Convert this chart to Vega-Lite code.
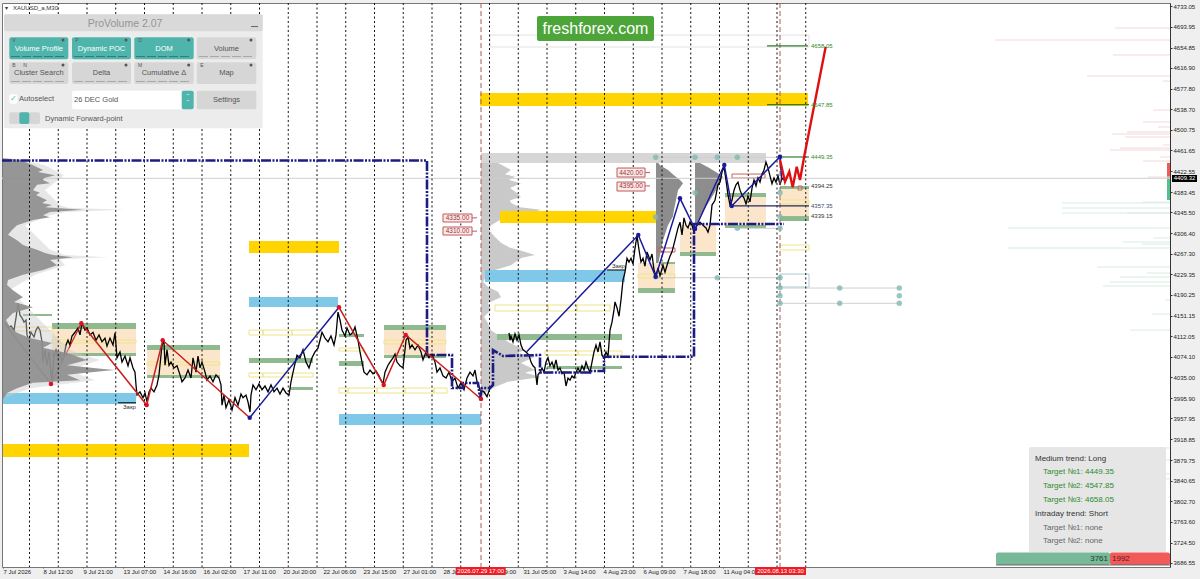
{
  "$schema": "https://vega.github.io/schema/vega-lite/v6.json",
  "width": 1168,
  "height": 564,
  "autosize": "none",
  "padding": {"left": 2, "top": 3, "right": 30, "bottom": 12},
  "background": "#efefef",
  "view": {"fill": "#ffffff", "stroke": "#777777"},
  "config": {"text": {"font": "Liberation Sans"}, "axis": {"labelFont": "Liberation Sans"}},
  "resolve": {"scale": {"color": "independent", "stroke": "independent"}},
  "encoding": {
    "x": {
      "field": "bar", "type": "quantitative",
      "scale": {"domain": [2, 1170], "nice": false, "zero": false},
      "axis": {
        "orient": "bottom", "title": null, "grid": false, "domain": false,
        "values": [3, 43, 83, 123, 163, 203, 243, 283, 323, 363, 403, 443, 483, 523, 563, 603, 643, 683, 723],
        "labelExpr": "['7 Jul 2026','8 Jul 12:00','9 Jul 21:00','13 Jul 07:00','14 Jul 16:00','16 Jul 02:00','17 Jul 11:00','20 Jul 20:00','22 Jul 06:00','23 Jul 15:00','27 Jul 01:00','28 Jul 10:00','30 Jul 19:00','31 Jul 05:00','3 Aug 14:00','4 Aug 23:00','6 Aug 09:00','7 Aug 18:00','11 Aug 04:00'][round((datum.value-3)/40)]",
        "labelAlign": "left", "labelFontSize": 6, "labelColor": "#222222", "labelPadding": 0,
        "labelFlush": false, "labelOverlap": false, "labelBound": false, "tickSize": 1, "tickColor": "#555555"
      }
    },
    "y": {
      "field": "price", "type": "quantitative",
      "scale": {"domain": [3678.9, 4738.7], "nice": false, "zero": false},
      "axis": {
        "orient": "right", "title": null, "grid": false, "domainColor": "#333333",
        "values": [4733.05, 4693.95, 4654.85, 4616.9, 4577.8, 4538.7, 4500.75, 4461.65, 4422.55, 4383.45, 4345.5, 4306.4, 4267.3, 4229.35, 4190.25, 4151.15, 4112.05, 4074.1, 4035, 3995.9, 3957.95, 3918.85, 3879.75, 3840.65, 3802.7, 3763.6, 3724.5, 3686.55],
        "format": ".2f", "labelFontSize": 6, "labelColor": "#222222", "labelPadding": 1,
        "labelOverlap": false, "labelBound": false, "labelFlush": false, "tickSize": 2, "tickColor": "#333333"
      }
    }
  },
  "datasets": {
    "second": [
      {"bar": 498, "bar2": 481, "price": 4438}, {"bar": 506, "bar2": 481, "price": 4430}, {"bar": 511, "bar2": 481, "price": 4425}, {"bar": 505, "bar2": 481, "price": 4417}, {"bar": 515, "bar2": 481, "price": 4412}, {"bar": 509, "bar2": 481, "price": 4406}, {"bar": 521, "bar2": 481, "price": 4400}, {"bar": 510, "bar2": 481, "price": 4391}, {"bar": 516, "bar2": 481, "price": 4383}, {"bar": 521, "bar2": 481, "price": 4374}, {"bar": 510, "bar2": 481, "price": 4368}, {"bar": 511, "bar2": 481, "price": 4363}, {"bar": 520, "bar2": 481, "price": 4355}, {"bar": 541, "bar2": 481, "price": 4350}, {"bar": 530, "bar2": 481, "price": 4344}, {"bar": 521, "bar2": 481, "price": 4340}, {"bar": 500, "bar2": 481, "price": 4331}, {"bar": 491, "bar2": 481, "price": 4321}, {"bar": 489, "bar2": 481, "price": 4312}, {"bar": 495, "bar2": 481, "price": 4299}, {"bar": 501, "bar2": 481, "price": 4288}, {"bar": 510, "bar2": 481, "price": 4279}, {"bar": 518, "bar2": 481, "price": 4275}, {"bar": 535, "bar2": 481, "price": 4265}, {"bar": 522, "bar2": 481, "price": 4260}, {"bar": 518, "bar2": 481, "price": 4256}, {"bar": 511, "bar2": 481, "price": 4246}, {"bar": 495, "bar2": 481, "price": 4237}, {"bar": 486, "bar2": 481, "price": 4224}, {"bar": 483, "bar2": 481, "price": 4215}, {"bar": 488, "bar2": 481, "price": 4205}, {"bar": 498, "bar2": 481, "price": 4196}, {"bar": 501, "bar2": 481, "price": 4186}, {"bar": 488, "bar2": 481, "price": 4175}, {"bar": 491, "bar2": 481, "price": 4162}, {"bar": 484, "bar2": 481, "price": 4149}, {"bar": 488, "bar2": 481, "price": 4137}, {"bar": 491, "bar2": 481, "price": 4124}, {"bar": 501, "bar2": 481, "price": 4111}, {"bar": 510, "bar2": 481, "price": 4100}, {"bar": 525, "bar2": 481, "price": 4087}, {"bar": 518, "bar2": 481, "price": 4081}, {"bar": 535, "bar2": 481, "price": 4074}, {"bar": 521, "bar2": 481, "price": 4062}, {"bar": 535, "bar2": 481, "price": 4049}, {"bar": 525, "bar2": 481, "price": 4044}, {"bar": 541, "bar2": 481, "price": 4036}, {"bar": 508, "bar2": 481, "price": 4027}, {"bar": 495, "bar2": 481, "price": 4017}, {"bar": 485, "bar2": 481, "price": 4006}, {"bar": 482, "bar2": 481, "price": 3998}
    ],
    "third": [
      {"bar": 656, "bar2": 656, "price": 4444}, {"bar": 660, "bar2": 656, "price": 4434}, {"bar": 668, "bar2": 656, "price": 4425}, {"bar": 674, "bar2": 656, "price": 4415}, {"bar": 680, "bar2": 656, "price": 4406}, {"bar": 683, "bar2": 656, "price": 4400}, {"bar": 678, "bar2": 656, "price": 4387}, {"bar": 676, "bar2": 656, "price": 4368}, {"bar": 674, "bar2": 656, "price": 4350}, {"bar": 673, "bar2": 656, "price": 4338}, {"bar": 668, "bar2": 656, "price": 4321}, {"bar": 663, "bar2": 656, "price": 4293}, {"bar": 660, "bar2": 656, "price": 4265}, {"bar": 658, "bar2": 656, "price": 4246}, {"bar": 656, "bar2": 656, "price": 4231}
    ],
    "fourth": [
      {"bar": 695, "bar2": 695, "price": 4444}, {"bar": 700, "bar2": 695, "price": 4438}, {"bar": 708, "bar2": 695, "price": 4430}, {"bar": 716, "bar2": 695, "price": 4421}, {"bar": 723, "bar2": 695, "price": 4412}, {"bar": 720, "bar2": 695, "price": 4402}, {"bar": 716, "bar2": 695, "price": 4387}, {"bar": 710, "bar2": 695, "price": 4368}, {"bar": 704, "bar2": 695, "price": 4350}, {"bar": 700, "bar2": 695, "price": 4337}, {"bar": 696, "bar2": 695, "price": 4321}
    ],
    "leftFringe": [
      {"bar": 20, "bar2": 3, "price": 4444}, {"bar": 45, "bar2": 3, "price": 4434}, {"bar": 64, "bar2": 3, "price": 4415}, {"bar": 45, "bar2": 3, "price": 4387}, {"bar": 60, "bar2": 3, "price": 4359}, {"bar": 68, "bar2": 3, "price": 4354}, {"bar": 125, "bar2": 3, "price": 4350}, {"bar": 65, "bar2": 3, "price": 4346}, {"bar": 50, "bar2": 3, "price": 4340}, {"bar": 25, "bar2": 3, "price": 4321}, {"bar": 50, "bar2": 3, "price": 4275}, {"bar": 65, "bar2": 3, "price": 4265}, {"bar": 108, "bar2": 3, "price": 4261}, {"bar": 60, "bar2": 3, "price": 4257}, {"bar": 65, "bar2": 3, "price": 4246}, {"bar": 35, "bar2": 3, "price": 4228}, {"bar": 10, "bar2": 3, "price": 4200}, {"bar": 60, "bar2": 3, "price": 4105}, {"bar": 72, "bar2": 3, "price": 4085}, {"bar": 100, "bar2": 3, "price": 4068}, {"bar": 75, "bar2": 3, "price": 4053}, {"bar": 125, "bar2": 3, "price": 4049}, {"bar": 75, "bar2": 3, "price": 4044}, {"bar": 95, "bar2": 3, "price": 4030}, {"bar": 30, "bar2": 3, "price": 4015}, {"bar": 4, "bar2": 3, "price": 3996}
    ],
    "left": [
      {"bar": 4, "bar2": 3, "price": 4447}, {"bar": 20, "bar2": 3, "price": 4444}, {"bar": 33, "bar2": 3, "price": 4434}, {"bar": 43, "bar2": 3, "price": 4425}, {"bar": 38, "bar2": 3, "price": 4421}, {"bar": 55, "bar2": 3, "price": 4415}, {"bar": 44, "bar2": 3, "price": 4410}, {"bar": 43, "bar2": 3, "price": 4406}, {"bar": 50, "bar2": 3, "price": 4400}, {"bar": 37, "bar2": 3, "price": 4397}, {"bar": 33, "bar2": 3, "price": 4387}, {"bar": 40, "bar2": 3, "price": 4382}, {"bar": 36, "bar2": 3, "price": 4378}, {"bar": 47, "bar2": 3, "price": 4368}, {"bar": 42, "bar2": 3, "price": 4363}, {"bar": 52, "bar2": 3, "price": 4359}, {"bar": 45, "bar2": 3, "price": 4355}, {"bar": 83, "bar2": 3, "price": 4350}, {"bar": 50, "bar2": 3, "price": 4346}, {"bar": 43, "bar2": 3, "price": 4340}, {"bar": 50, "bar2": 3, "price": 4336}, {"bar": 33, "bar2": 3, "price": 4331}, {"bar": 17, "bar2": 3, "price": 4321}, {"bar": 12, "bar2": 3, "price": 4312}, {"bar": 8, "bar2": 3, "price": 4303}, {"bar": 17, "bar2": 3, "price": 4293}, {"bar": 23, "bar2": 3, "price": 4284}, {"bar": 37, "bar2": 3, "price": 4275}, {"bar": 45, "bar2": 3, "price": 4269}, {"bar": 53, "bar2": 3, "price": 4265}, {"bar": 73, "bar2": 3, "price": 4261}, {"bar": 50, "bar2": 3, "price": 4256}, {"bar": 57, "bar2": 3, "price": 4246}, {"bar": 43, "bar2": 3, "price": 4237}, {"bar": 23, "bar2": 3, "price": 4228}, {"bar": 8, "bar2": 3, "price": 4218}, {"bar": 7, "bar2": 3, "price": 4209}, {"bar": 13, "bar2": 3, "price": 4199}, {"bar": 23, "bar2": 3, "price": 4186}, {"bar": 14, "bar2": 3, "price": 4177}, {"bar": 33, "bar2": 3, "price": 4167}, {"bar": 13, "bar2": 3, "price": 4156}, {"bar": 6, "bar2": 3, "price": 4143}, {"bar": 10, "bar2": 3, "price": 4130}, {"bar": 17, "bar2": 3, "price": 4119}, {"bar": 30, "bar2": 3, "price": 4109}, {"bar": 52, "bar2": 3, "price": 4100}, {"bar": 43, "bar2": 3, "price": 4091}, {"bar": 67, "bar2": 3, "price": 4081}, {"bar": 87, "bar2": 3, "price": 4068}, {"bar": 67, "bar2": 3, "price": 4058}, {"bar": 113, "bar2": 3, "price": 4049}, {"bar": 67, "bar2": 3, "price": 4040}, {"bar": 80, "bar2": 3, "price": 4030}, {"bar": 33, "bar2": 3, "price": 4025}, {"bar": 17, "bar2": 3, "price": 4015}, {"bar": 7, "bar2": 3, "price": 4006}, {"bar": 4, "bar2": 3, "price": 3996}
    ],
    "zones": [
      {"kind": "gray", "bar": 481, "bar2": 766, "price": 4456.8, "price2": 4438},
      {"kind": "beige", "bar": 52, "bar2": 136, "price": 4126.1, "price2": 4081},
      {"kind": "beige", "bar": 147, "bar2": 220, "price": 4086.6, "price2": 4039.7},
      {"kind": "beige", "bar": 384, "bar2": 446, "price": 4124.2, "price2": 4077.2},
      {"kind": "beige", "bar": 638, "bar2": 675, "price": 4250.1, "price2": 4203.2},
      {"kind": "beige", "bar": 680, "bar2": 716, "price": 4321.5, "price2": 4270.8},
      {"kind": "beige", "bar": 725, "bar2": 766, "price": 4374.1, "price2": 4321.5},
      {"kind": "beige", "bar": 780, "bar2": 809, "price": 4389.2, "price2": 4338.4},
      {"kind": "gold", "bar": 3, "bar2": 249, "price": 3910, "price2": 3885.6},
      {"kind": "gold", "bar": 249, "bar2": 339, "price": 4291.4, "price2": 4268.9},
      {"kind": "gold", "bar": 480, "bar2": 808, "price": 4569.6, "price2": 4545.1},
      {"kind": "gold", "bar": 500, "bar2": 656, "price": 4347.8, "price2": 4325.3},
      {"kind": "sky", "bar": 3, "bar2": 136, "price": 4005.8, "price2": 3985.2},
      {"kind": "sky", "bar": 249, "bar2": 338, "price": 4186.2, "price2": 4167.5},
      {"kind": "sky", "bar": 339, "bar2": 481, "price": 3966.4, "price2": 3945.7},
      {"kind": "sky", "bar": 485, "bar2": 625, "price": 4237, "price2": 4214.4},
      {"kind": "green", "bar": 52, "bar2": 136, "price": 4137.4, "price2": 4126.1},
      {"kind": "green", "bar": 23, "bar2": 52, "price": 4154.3, "price2": 4150.5},
      {"kind": "green", "bar": 52, "bar2": 136, "price": 4081, "price2": 4075.4},
      {"kind": "green", "bar": 147, "bar2": 220, "price": 4096, "price2": 4086.6},
      {"kind": "green", "bar": 147, "bar2": 220, "price": 4039.7, "price2": 4034},
      {"kind": "green", "bar": 249, "bar2": 313, "price": 4071.6, "price2": 4062.2},
      {"kind": "green", "bar": 290, "bar2": 313, "price": 4017.1, "price2": 4011.5},
      {"kind": "green", "bar": 339, "bar2": 364, "price": 4116.7, "price2": 4111},
      {"kind": "green", "bar": 339, "bar2": 364, "price": 4066, "price2": 4056.6},
      {"kind": "green", "bar": 384, "bar2": 446, "price": 4133.6, "price2": 4124.2},
      {"kind": "green", "bar": 384, "bar2": 446, "price": 4077.2, "price2": 4071.6},
      {"kind": "green", "bar": 497, "bar2": 622, "price": 4116.7, "price2": 4105.4},
      {"kind": "green", "bar": 547, "bar2": 622, "price": 4056.6, "price2": 4051},
      {"kind": "green", "bar": 638, "bar2": 675, "price": 4203.2, "price2": 4193.8},
      {"kind": "green", "bar": 659, "bar2": 675, "price": 4252, "price2": 4248.2},
      {"kind": "green", "bar": 680, "bar2": 716, "price": 4270.8, "price2": 4263.3},
      {"kind": "green", "bar": 725, "bar2": 766, "price": 4381.6, "price2": 4374.1},
      {"kind": "green", "bar": 725, "bar2": 766, "price": 4321.5, "price2": 4315.9},
      {"kind": "green", "bar": 780, "bar2": 809, "price": 4394.8, "price2": 4389.2},
      {"kind": "green", "bar": 780, "bar2": 809, "price": 4338.4, "price2": 4329},
      {"kind": "domRed", "bar": 1167, "bar2": 1170, "price": 4438, "price2": 4409.3},
      {"kind": "domGreen", "bar": 1167, "bar2": 1170, "price": 4409.3, "price2": 4368.5}
    ],
    "outlines": [
      {"kind": "yellow", "bar": 15, "bar2": 52, "price": 4129.9, "price2": 4122.3},
      {"kind": "yellow", "bar": 52, "bar2": 136, "price": 4105.4, "price2": 4099.8},
      {"kind": "yellow", "bar": 147, "bar2": 220, "price": 4064.1, "price2": 4058.5},
      {"kind": "yellow", "bar": 249, "bar2": 263, "price": 4124.2, "price2": 4114.8},
      {"kind": "yellow", "bar": 263, "bar2": 292, "price": 4124.2, "price2": 4114.8},
      {"kind": "yellow", "bar": 292, "bar2": 320, "price": 4124.2, "price2": 4114.8},
      {"kind": "yellow", "bar": 249, "bar2": 263, "price": 4043.4, "price2": 4035.9},
      {"kind": "yellow", "bar": 263, "bar2": 292, "price": 4043.4, "price2": 4035.9},
      {"kind": "yellow", "bar": 292, "bar2": 313, "price": 4043.4, "price2": 4035.9},
      {"kind": "yellow", "bar": 339, "bar2": 364, "price": 4090.4, "price2": 4084.8},
      {"kind": "yellow", "bar": 339, "bar2": 348, "price": 4015.2, "price2": 4005.8},
      {"kind": "yellow", "bar": 348, "bar2": 377, "price": 4015.2, "price2": 4005.8},
      {"kind": "yellow", "bar": 377, "bar2": 405, "price": 4015.2, "price2": 4005.8},
      {"kind": "yellow", "bar": 405, "bar2": 434, "price": 4015.2, "price2": 4005.8},
      {"kind": "yellow", "bar": 434, "bar2": 447, "price": 4015.2, "price2": 4005.8},
      {"kind": "yellow", "bar": 384, "bar2": 446, "price": 4105.4, "price2": 4098},
      {"kind": "yellow", "bar": 495, "bar2": 548, "price": 4171.2, "price2": 4159.9},
      {"kind": "yellow", "bar": 548, "bar2": 577, "price": 4171.2, "price2": 4159.9},
      {"kind": "yellow", "bar": 577, "bar2": 610, "price": 4171.2, "price2": 4159.9},
      {"kind": "yellow", "bar": 545, "bar2": 578, "price": 4084.8, "price2": 4077.2},
      {"kind": "yellow", "bar": 578, "bar2": 622, "price": 4084.8, "price2": 4077.2},
      {"kind": "yellow", "bar": 638, "bar2": 675, "price": 4229.4, "price2": 4221.9},
      {"kind": "yellow", "bar": 780, "bar2": 809, "price": 4283.9, "price2": 4274.6},
      {"kind": "yellow", "bar": 780, "bar2": 809, "price": 4368.5, "price2": 4361},
      {"kind": "red", "bar": 658, "bar2": 675, "price": 4278.3, "price2": 4270.8},
      {"kind": "red", "bar": 732, "bar2": 765, "price": 4417.3, "price2": 4409.8},
      {"kind": "red", "bar": 798, "bar2": 802, "price": 4394.8, "price2": 4387.3},
      {"kind": "blue", "bar": 780, "bar2": 809, "price": 4229.4, "price2": 4205},
      {"kind": "gray", "bar": 490, "bar2": 809, "price": 4678.5, "price2": 4656}
    ],
    "grid": [
      {"bar": 29.5, "price": 4738.7, "price2": 3678.9}, {"bar": 58.25, "price": 4738.7, "price2": 3678.9}, {"bar": 87, "price": 4738.7, "price2": 3678.9}, {"bar": 115.75, "price": 4738.7, "price2": 3678.9}, {"bar": 144.5, "price": 4738.7, "price2": 3678.9}, {"bar": 173.25, "price": 4738.7, "price2": 3678.9}, {"bar": 202, "price": 4738.7, "price2": 3678.9}, {"bar": 230.75, "price": 4738.7, "price2": 3678.9}, {"bar": 259.5, "price": 4738.7, "price2": 3678.9}, {"bar": 288.25, "price": 4738.7, "price2": 3678.9}, {"bar": 317, "price": 4738.7, "price2": 3678.9}, {"bar": 345.75, "price": 4738.7, "price2": 3678.9}, {"bar": 374.5, "price": 4738.7, "price2": 3678.9}, {"bar": 403.25, "price": 4738.7, "price2": 3678.9}, {"bar": 432, "price": 4738.7, "price2": 3678.9}, {"bar": 460.75, "price": 4738.7, "price2": 3678.9}, {"bar": 489.5, "price": 4738.7, "price2": 3678.9}, {"bar": 518.25, "price": 4738.7, "price2": 3678.9}, {"bar": 547, "price": 4738.7, "price2": 3678.9}, {"bar": 575.75, "price": 4738.7, "price2": 3678.9}, {"bar": 604.5, "price": 4738.7, "price2": 3678.9}, {"bar": 633.25, "price": 4738.7, "price2": 3678.9}, {"bar": 662, "price": 4738.7, "price2": 3678.9}, {"bar": 690.75, "price": 4738.7, "price2": 3678.9}, {"bar": 719.5, "price": 4738.7, "price2": 3678.9}, {"bar": 748.25, "price": 4738.7, "price2": 3678.9}, {"bar": 777, "price": 4738.7, "price2": 3678.9}, {"bar": 805.75, "price": 4738.7, "price2": 3678.9}
    ],
    "separators": [{"bar": 481, "price": 4738.7, "price2": 3678.9}, {"bar": 780, "price": 4738.7, "price2": 3678.9}],
    "pale": [
      {"bar": 2, "bar2": 1170, "price": 4409.32},
      {"bar": 655, "bar2": 780, "price": 4448.7},
      {"bar": 737, "bar2": 780, "price": 4315.3},
      {"bar": 655, "bar2": 780, "price": 4222.5},
      {"bar": 780, "bar2": 899, "price": 4203.1},
      {"bar": 780, "bar2": 899, "price": 4174.4}
    ],
    "dom": [
      {"side": "ask", "bar": 1115, "bar2": 1170, "price": 4691.7}, {"side": "ask", "bar": 995, "bar2": 1170, "price": 4669.1}, {"side": "ask", "bar": 1113, "bar2": 1170, "price": 4641}, {"side": "ask", "bar": 1087, "bar2": 1170, "price": 4601.5}, {"side": "ask", "bar": 1163, "bar2": 1170, "price": 4592.1}, {"side": "ask", "bar": 1153, "bar2": 1170, "price": 4537.6}, {"side": "ask", "bar": 1143, "bar2": 1170, "price": 4515.1}, {"side": "ask", "bar": 1158, "bar2": 1170, "price": 4505.7}, {"side": "ask", "bar": 1112, "bar2": 1170, "price": 4492.5}, {"side": "ask", "bar": 1127, "bar2": 1170, "price": 4496.3}, {"side": "ask", "bar": 1125, "bar2": 1170, "price": 4486.9}, {"side": "ask", "bar": 1163, "bar2": 1170, "price": 4471.8}, {"side": "ask", "bar": 1110, "bar2": 1170, "price": 4462.5}, {"side": "ask", "bar": 1120, "bar2": 1170, "price": 4466.2}, {"side": "ask", "bar": 1143, "bar2": 1170, "price": 4441.8}, {"side": "ask", "bar": 1160, "bar2": 1170, "price": 4449.3}, {"side": "ask", "bar": 1148, "bar2": 1170, "price": 4411.7},
      {"side": "bid", "bar": 1062, "bar2": 1170, "price": 4362.9}, {"side": "bid", "bar": 1143, "bar2": 1170, "price": 4364.7}, {"side": "bid", "bar": 1062, "bar2": 1170, "price": 4353.5}, {"side": "bid", "bar": 1062, "bar2": 1170, "price": 4344.1}, {"side": "bid", "bar": 1127, "bar2": 1170, "price": 4344.1}, {"side": "bid", "bar": 1008, "bar2": 1170, "price": 4315.9}, {"side": "bid", "bar": 1153, "bar2": 1170, "price": 4297.1}, {"side": "bid", "bar": 1123, "bar2": 1170, "price": 4289.6}, {"side": "bid", "bar": 1142, "bar2": 1170, "price": 4285.8}, {"side": "bid", "bar": 1008, "bar2": 1170, "price": 4278.3}, {"side": "bid", "bar": 1097, "bar2": 1170, "price": 4242.6}, {"side": "bid", "bar": 1147, "bar2": 1170, "price": 4231.3}, {"side": "bid", "bar": 1120, "bar2": 1170, "price": 4223.8}, {"side": "bid", "bar": 1110, "bar2": 1170, "price": 4214.4}, {"side": "bid", "bar": 1103, "bar2": 1170, "price": 4206.9}, {"side": "bid", "bar": 1165, "bar2": 1170, "price": 4180.6}, {"side": "bid", "bar": 1152, "bar2": 1170, "price": 4154.3}, {"side": "bid", "bar": 1130, "bar2": 1170, "price": 4124}, {"side": "bid", "bar": 1150, "bar2": 1170, "price": 3902.5}, {"side": "bid", "bar": 1160, "bar2": 1170, "price": 3880}, {"side": "bid", "bar": 1160, "bar2": 1170, "price": 3853.7}, {"side": "bid", "bar": 1123, "bar2": 1170, "price": 3844.3}
    ],
    "levels": [
      {"tone": "green", "bar": 780, "bar2": 809, "price": 4449.35},
      {"tone": "green", "bar": 767, "bar2": 809, "price": 4547.85},
      {"tone": "green", "bar": 767, "bar2": 808, "price": 4658.05},
      {"tone": "navy", "bar": 731, "bar2": 809, "price": 4357.35}
    ],
    "close": [
      {"seg": "a", "bar": 5, "price": 4137}, {"seg": "a", "bar": 8, "price": 4128}, {"seg": "a", "bar": 11, "price": 4132}, {"seg": "a", "bar": 14, "price": 4124}, {"seg": "a", "bar": 16, "price": 4147}, {"seg": "a", "bar": 18, "price": 4175}, {"seg": "a", "bar": 20, "price": 4152}, {"seg": "a", "bar": 22, "price": 4147}, {"seg": "a", "bar": 24, "price": 4139}, {"seg": "a", "bar": 26, "price": 4143}, {"seg": "a", "bar": 27, "price": 4115}, {"seg": "a", "bar": 29, "price": 4104}, {"seg": "a", "bar": 31, "price": 4120}, {"seg": "a", "bar": 34, "price": 4111}, {"seg": "a", "bar": 36, "price": 4124}, {"seg": "a", "bar": 38, "price": 4130}, {"seg": "a", "bar": 40, "price": 4124}, {"seg": "a", "bar": 42, "price": 4102}, {"seg": "a", "bar": 43, "price": 4064}, {"seg": "a", "bar": 45, "price": 4087}, {"seg": "a", "bar": 47, "price": 4058}, {"seg": "a", "bar": 49, "price": 4083}, {"seg": "a", "bar": 51, "price": 4040}, {"seg": "a", "bar": 52, "price": 4030}, {"seg": "a", "bar": 54, "price": 4077}, {"seg": "a", "bar": 56, "price": 4087}, {"seg": "a", "bar": 58, "price": 4072}, {"seg": "a", "bar": 60, "price": 4079}, {"seg": "a", "bar": 62, "price": 4064}, {"seg": "a", "bar": 64, "price": 4075}, {"seg": "a", "bar": 66, "price": 4096}, {"seg": "a", "bar": 68, "price": 4105}, {"seg": "a", "bar": 70, "price": 4096}, {"seg": "a", "bar": 72, "price": 4113}, {"seg": "a", "bar": 75, "price": 4120}, {"seg": "a", "bar": 78, "price": 4128}, {"seg": "a", "bar": 80, "price": 4115}, {"seg": "a", "bar": 82, "price": 4137}, {"seg": "a", "bar": 85, "price": 4124}, {"seg": "a", "bar": 87, "price": 4128}, {"seg": "a", "bar": 90, "price": 4115}, {"seg": "a", "bar": 93, "price": 4120}, {"seg": "a", "bar": 96, "price": 4105}, {"seg": "a", "bar": 99, "price": 4115}, {"seg": "a", "bar": 102, "price": 4102}, {"seg": "a", "bar": 105, "price": 4109}, {"seg": "a", "bar": 107, "price": 4094}, {"seg": "a", "bar": 110, "price": 4109}, {"seg": "a", "bar": 113, "price": 4096}, {"seg": "a", "bar": 115, "price": 4119}, {"seg": "a", "bar": 116, "price": 4096}, {"seg": "a", "bar": 117, "price": 4072}, {"seg": "a", "bar": 120, "price": 4083}, {"seg": "a", "bar": 122, "price": 4064}, {"seg": "a", "bar": 125, "price": 4075}, {"seg": "a", "bar": 128, "price": 4057}, {"seg": "a", "bar": 130, "price": 4072}, {"seg": "a", "bar": 133, "price": 4053}, {"seg": "a", "bar": 135, "price": 4045}, {"seg": "a", "bar": 136, "price": 4021}, {"seg": "a", "bar": 137, "price": 4002}, {"seg": "a", "bar": 140, "price": 4008}, {"seg": "a", "bar": 143, "price": 3997}, {"seg": "a", "bar": 145, "price": 4006}, {"seg": "a", "bar": 147, "price": 3989}, {"seg": "a", "bar": 149, "price": 4008}, {"seg": "a", "bar": 151, "price": 4015}, {"seg": "a", "bar": 154, "price": 4008}, {"seg": "a", "bar": 157, "price": 4021}, {"seg": "a", "bar": 159, "price": 4040}, {"seg": "a", "bar": 161, "price": 4077}, {"seg": "a", "bar": 162, "price": 4096}, {"seg": "a", "bar": 164, "price": 4102}, {"seg": "a", "bar": 165, "price": 4058}, {"seg": "a", "bar": 167, "price": 4087}, {"seg": "a", "bar": 169, "price": 4058}, {"seg": "a", "bar": 171, "price": 4064}, {"seg": "a", "bar": 174, "price": 4053}, {"seg": "a", "bar": 177, "price": 4057}, {"seg": "a", "bar": 180, "price": 4040}, {"seg": "a", "bar": 182, "price": 4027}, {"seg": "a", "bar": 185, "price": 4034}, {"seg": "a", "bar": 188, "price": 4049}, {"seg": "a", "bar": 191, "price": 4034}, {"seg": "a", "bar": 193, "price": 4072}, {"seg": "a", "bar": 196, "price": 4045}, {"seg": "a", "bar": 198, "price": 4075}, {"seg": "a", "bar": 200, "price": 4053}, {"seg": "a", "bar": 202, "price": 4064}, {"seg": "a", "bar": 205, "price": 4045}, {"seg": "a", "bar": 207, "price": 4030}, {"seg": "a", "bar": 210, "price": 4038}, {"seg": "a", "bar": 213, "price": 4027}, {"seg": "a", "bar": 216, "price": 4040}, {"seg": "a", "bar": 219, "price": 4034}, {"seg": "a", "bar": 221, "price": 4021}, {"seg": "a", "bar": 222, "price": 3983}, {"seg": "a", "bar": 224, "price": 4002}, {"seg": "a", "bar": 226, "price": 3978}, {"seg": "a", "bar": 229, "price": 3993}, {"seg": "a", "bar": 232, "price": 3974}, {"seg": "a", "bar": 235, "price": 3997}, {"seg": "a", "bar": 238, "price": 3983}, {"seg": "a", "bar": 241, "price": 4004}, {"seg": "a", "bar": 243, "price": 3997}, {"seg": "a", "bar": 246, "price": 4002}, {"seg": "a", "bar": 248, "price": 3989}, {"seg": "a", "bar": 250, "price": 3970}, {"seg": "a", "bar": 251, "price": 4002}, {"seg": "a", "bar": 253, "price": 4021}, {"seg": "a", "bar": 256, "price": 4012}, {"seg": "a", "bar": 259, "price": 4023}, {"seg": "a", "bar": 262, "price": 4012}, {"seg": "a", "bar": 265, "price": 4019}, {"seg": "a", "bar": 268, "price": 4008}, {"seg": "a", "bar": 271, "price": 4021}, {"seg": "a", "bar": 274, "price": 4008}, {"seg": "a", "bar": 277, "price": 4015}, {"seg": "a", "bar": 280, "price": 4004}, {"seg": "a", "bar": 283, "price": 4015}, {"seg": "a", "bar": 286, "price": 4006}, {"seg": "a", "bar": 289, "price": 4002}, {"seg": "a", "bar": 291, "price": 4027}, {"seg": "a", "bar": 294, "price": 4053}, {"seg": "a", "bar": 297, "price": 4077}, {"seg": "a", "bar": 300, "price": 4072}, {"seg": "a", "bar": 303, "price": 4087}, {"seg": "a", "bar": 306, "price": 4064}, {"seg": "a", "bar": 309, "price": 4053}, {"seg": "a", "bar": 312, "price": 4072}, {"seg": "a", "bar": 315, "price": 4083}, {"seg": "a", "bar": 318, "price": 4090}, {"seg": "a", "bar": 320, "price": 4105}, {"seg": "a", "bar": 322, "price": 4120}, {"seg": "a", "bar": 325, "price": 4109}, {"seg": "a", "bar": 328, "price": 4102}, {"seg": "a", "bar": 331, "price": 4113}, {"seg": "a", "bar": 334, "price": 4096}, {"seg": "a", "bar": 336, "price": 4115}, {"seg": "a", "bar": 338, "price": 4158}, {"seg": "a", "bar": 340, "price": 4143}, {"seg": "a", "bar": 342, "price": 4124}, {"seg": "a", "bar": 345, "price": 4113}, {"seg": "a", "bar": 347, "price": 4128}, {"seg": "a", "bar": 350, "price": 4115}, {"seg": "a", "bar": 353, "price": 4120}, {"seg": "a", "bar": 355, "price": 4130}, {"seg": "a", "bar": 358, "price": 4105}, {"seg": "a", "bar": 360, "price": 4083}, {"seg": "a", "bar": 362, "price": 4064}, {"seg": "a", "bar": 364, "price": 4045}, {"seg": "a", "bar": 367, "price": 4040}, {"seg": "a", "bar": 370, "price": 4049}, {"seg": "a", "bar": 373, "price": 4042}, {"seg": "a", "bar": 376, "price": 4047}, {"seg": "a", "bar": 379, "price": 4038}, {"seg": "a", "bar": 381, "price": 4030}, {"seg": "a", "bar": 383, "price": 4023}, {"seg": "a", "bar": 385, "price": 4045}, {"seg": "a", "bar": 388, "price": 4058}, {"seg": "a", "bar": 390, "price": 4064}, {"seg": "a", "bar": 393, "price": 4072}, {"seg": "a", "bar": 395, "price": 4079}, {"seg": "a", "bar": 397, "price": 4064}, {"seg": "a", "bar": 400, "price": 4057}, {"seg": "a", "bar": 403, "price": 4053}, {"seg": "a", "bar": 405, "price": 4087}, {"seg": "a", "bar": 406, "price": 4105}, {"seg": "a", "bar": 408, "price": 4111}, {"seg": "a", "bar": 410, "price": 4090}, {"seg": "a", "bar": 412, "price": 4096}, {"seg": "a", "bar": 415, "price": 4087}, {"seg": "a", "bar": 418, "price": 4096}, {"seg": "a", "bar": 421, "price": 4083}, {"seg": "a", "bar": 423, "price": 4068}, {"seg": "a", "bar": 426, "price": 4083}, {"seg": "a", "bar": 429, "price": 4072}, {"seg": "a", "bar": 432, "price": 4079}, {"seg": "a", "bar": 435, "price": 4064}, {"seg": "a", "bar": 437, "price": 4045}, {"seg": "a", "bar": 440, "price": 4053}, {"seg": "a", "bar": 443, "price": 4038}, {"seg": "a", "bar": 446, "price": 4034}, {"seg": "a", "bar": 449, "price": 4045}, {"seg": "a", "bar": 452, "price": 4027}, {"seg": "a", "bar": 455, "price": 4034}, {"seg": "a", "bar": 458, "price": 4015}, {"seg": "a", "bar": 461, "price": 4025}, {"seg": "a", "bar": 464, "price": 4012}, {"seg": "a", "bar": 467, "price": 4034}, {"seg": "a", "bar": 470, "price": 4045}, {"seg": "a", "bar": 473, "price": 4038}, {"seg": "a", "bar": 475, "price": 4049}, {"seg": "a", "bar": 477, "price": 4027}, {"seg": "a", "bar": 480, "price": 4012}, {"seg": "a", "bar": 484, "price": 4008}, {"seg": "a", "bar": 487, "price": 3999}, {"seg": "a", "bar": 490, "price": 4015},
      {"seg": "b", "bar": 509, "price": 4119}, {"seg": "b", "bar": 510, "price": 4105}, {"seg": "b", "bar": 511, "price": 4113}, {"seg": "b", "bar": 513, "price": 4102}, {"seg": "b", "bar": 515, "price": 4117}, {"seg": "b", "bar": 517, "price": 4105}, {"seg": "b", "bar": 519, "price": 4115}, {"seg": "b", "bar": 521, "price": 4096}, {"seg": "b", "bar": 523, "price": 4087}, {"seg": "b", "bar": 526, "price": 4083}, {"seg": "b", "bar": 529, "price": 4077}, {"seg": "b", "bar": 531, "price": 4064}, {"seg": "b", "bar": 533, "price": 4057}, {"seg": "b", "bar": 535, "price": 4053}, {"seg": "b", "bar": 537, "price": 4021}, {"seg": "b", "bar": 538, "price": 4040}, {"seg": "b", "bar": 540, "price": 4045}, {"seg": "b", "bar": 542, "price": 4053}, {"seg": "b", "bar": 544, "price": 4045}, {"seg": "b", "bar": 546, "price": 4064}, {"seg": "b", "bar": 548, "price": 4072}, {"seg": "b", "bar": 550, "price": 4057}, {"seg": "b", "bar": 552, "price": 4064}, {"seg": "b", "bar": 554, "price": 4053}, {"seg": "b", "bar": 556, "price": 4068}, {"seg": "b", "bar": 558, "price": 4049}, {"seg": "b", "bar": 560, "price": 4053}, {"seg": "b", "bar": 562, "price": 4042}, {"seg": "b", "bar": 564, "price": 4045}, {"seg": "b", "bar": 566, "price": 4019}, {"seg": "b", "bar": 568, "price": 4034}, {"seg": "b", "bar": 570, "price": 4030}, {"seg": "b", "bar": 572, "price": 4038}, {"seg": "b", "bar": 574, "price": 4034}, {"seg": "b", "bar": 576, "price": 4045}, {"seg": "b", "bar": 578, "price": 4053}, {"seg": "b", "bar": 580, "price": 4045}, {"seg": "b", "bar": 582, "price": 4057}, {"seg": "b", "bar": 584, "price": 4049}, {"seg": "b", "bar": 586, "price": 4064}, {"seg": "b", "bar": 588, "price": 4053}, {"seg": "b", "bar": 590, "price": 4045}, {"seg": "b", "bar": 592, "price": 4064}, {"seg": "b", "bar": 594, "price": 4083}, {"seg": "b", "bar": 596, "price": 4096}, {"seg": "b", "bar": 598, "price": 4083}, {"seg": "b", "bar": 600, "price": 4102}, {"seg": "b", "bar": 602, "price": 4077}, {"seg": "b", "bar": 604, "price": 4072}, {"seg": "b", "bar": 606, "price": 4083}, {"seg": "b", "bar": 608, "price": 4075}, {"seg": "b", "bar": 610, "price": 4124}, {"seg": "b", "bar": 612, "price": 4139}, {"seg": "b", "bar": 614, "price": 4162}, {"seg": "b", "bar": 615, "price": 4177}, {"seg": "b", "bar": 617, "price": 4166}, {"seg": "b", "bar": 619, "price": 4150}, {"seg": "b", "bar": 621, "price": 4181}, {"seg": "b", "bar": 623, "price": 4218}, {"seg": "b", "bar": 625, "price": 4233}, {"seg": "b", "bar": 627, "price": 4259}, {"seg": "b", "bar": 629, "price": 4252}, {"seg": "b", "bar": 631, "price": 4259}, {"seg": "b", "bar": 633, "price": 4248}, {"seg": "b", "bar": 635, "price": 4278}, {"seg": "b", "bar": 637, "price": 4301}, {"seg": "b", "bar": 639, "price": 4275}, {"seg": "b", "bar": 641, "price": 4252}, {"seg": "b", "bar": 643, "price": 4259}, {"seg": "b", "bar": 645, "price": 4244}, {"seg": "b", "bar": 647, "price": 4271}, {"seg": "b", "bar": 650, "price": 4256}, {"seg": "b", "bar": 652, "price": 4267}, {"seg": "b", "bar": 654, "price": 4237}, {"seg": "b", "bar": 656, "price": 4226}, {"seg": "b", "bar": 658, "price": 4241}, {"seg": "b", "bar": 660, "price": 4226}, {"seg": "b", "bar": 663, "price": 4246}, {"seg": "b", "bar": 665, "price": 4233}, {"seg": "b", "bar": 668, "price": 4252}, {"seg": "b", "bar": 670, "price": 4263}, {"seg": "b", "bar": 672, "price": 4271}, {"seg": "b", "bar": 675, "price": 4293}, {"seg": "b", "bar": 678, "price": 4316}, {"seg": "b", "bar": 680, "price": 4327}, {"seg": "b", "bar": 682, "price": 4303}, {"seg": "b", "bar": 684, "price": 4335}, {"seg": "b", "bar": 686, "price": 4321}, {"seg": "b", "bar": 688, "price": 4316}, {"seg": "b", "bar": 690, "price": 4327}, {"seg": "b", "bar": 692, "price": 4321}, {"seg": "b", "bar": 694, "price": 4308}, {"seg": "b", "bar": 697, "price": 4321}, {"seg": "b", "bar": 700, "price": 4327}, {"seg": "b", "bar": 703, "price": 4321}, {"seg": "b", "bar": 706, "price": 4316}, {"seg": "b", "bar": 708, "price": 4308}, {"seg": "b", "bar": 710, "price": 4321}, {"seg": "b", "bar": 712, "price": 4359}, {"seg": "b", "bar": 715, "price": 4368}, {"seg": "b", "bar": 718, "price": 4397}, {"seg": "b", "bar": 720, "price": 4402}, {"seg": "b", "bar": 722, "price": 4421}, {"seg": "b", "bar": 724, "price": 4431}, {"seg": "b", "bar": 726, "price": 4406}, {"seg": "b", "bar": 728, "price": 4378}, {"seg": "b", "bar": 730, "price": 4359}, {"seg": "b", "bar": 732, "price": 4368}, {"seg": "b", "bar": 734, "price": 4387}, {"seg": "b", "bar": 736, "price": 4397}, {"seg": "b", "bar": 738, "price": 4402}, {"seg": "b", "bar": 740, "price": 4387}, {"seg": "b", "bar": 742, "price": 4378}, {"seg": "b", "bar": 744, "price": 4372}, {"seg": "b", "bar": 746, "price": 4361}, {"seg": "b", "bar": 748, "price": 4376}, {"seg": "b", "bar": 750, "price": 4365}, {"seg": "b", "bar": 752, "price": 4391}, {"seg": "b", "bar": 754, "price": 4406}, {"seg": "b", "bar": 756, "price": 4395}, {"seg": "b", "bar": 758, "price": 4410}, {"seg": "b", "bar": 760, "price": 4402}, {"seg": "b", "bar": 762, "price": 4417}, {"seg": "b", "bar": 764, "price": 4425}, {"seg": "b", "bar": 766, "price": 4440}, {"seg": "b", "bar": 768, "price": 4429}, {"seg": "b", "bar": 770, "price": 4414}, {"seg": "b", "bar": 772, "price": 4399}, {"seg": "b", "bar": 774, "price": 4410}, {"seg": "b", "bar": 776, "price": 4402}, {"seg": "b", "bar": 778, "price": 4414}, {"seg": "b", "bar": 780, "price": 4397}, {"seg": "b", "bar": 782, "price": 4410}, {"seg": "b", "bar": 784, "price": 4406}
    ],
    "zigzagUnder": [
      {"bar": 7, "price": 4129.9}, {"bar": 51, "price": 4022.8}, {"bar": 81.3, "price": 4136.8}
    ],
    "zigzag": [
      {"leg": "r1", "dir": "down", "seq": 3, "bar": 81.3, "price": 4136.8}, {"leg": "r1", "dir": "down", "seq": 4, "bar": 146.7, "price": 3983.3}, {"leg": "r1", "dir": "down", "seq": 5, "bar": 162.7, "price": 4104.9}, {"leg": "r1", "dir": "down", "seq": 6, "bar": 249.7, "price": 3959.4},
      {"leg": "b1", "dir": "up", "seq": 7, "bar": 249.7, "price": 3959.4}, {"leg": "b1", "dir": "up", "seq": 8, "bar": 339, "price": 4166.9},
      {"leg": "r2", "dir": "down", "seq": 9, "bar": 339, "price": 4166.9}, {"leg": "r2", "dir": "down", "seq": 10, "bar": 383.7, "price": 4020.9}, {"leg": "r2", "dir": "down", "seq": 11, "bar": 405.7, "price": 4114.8}, {"leg": "r2", "dir": "down", "seq": 12, "bar": 481, "price": 3994.6},
      {"leg": "b2", "dir": "up", "seq": 13, "bar": 526.7, "price": 4083.4}, {"leg": "b2", "dir": "up", "seq": 14, "bar": 638.3, "price": 4302.7}, {"leg": "b2", "dir": "up", "seq": 15, "bar": 655.7, "price": 4224.4}, {"leg": "b2", "dir": "up", "seq": 16, "bar": 680, "price": 4371.7}, {"leg": "b2", "dir": "up", "seq": 17, "bar": 695, "price": 4314}, {"leg": "b2", "dir": "up", "seq": 18, "bar": 724.3, "price": 4434.3}, {"leg": "b2", "dir": "up", "seq": 19, "bar": 731.7, "price": 4357.2}, {"leg": "b2", "dir": "up", "seq": 20, "bar": 780, "price": 4449.9}, {"leg": "b2", "dir": "up", "seq": 21, "bar": 781.7, "price": 4406.1}
    ],
    "zigzagDots": [
      {"dir": "down", "bar": 51, "price": 4022.8}, {"dir": "down", "bar": 81.3, "price": 4136.8}, {"dir": "down", "bar": 146.7, "price": 3983.3}, {"dir": "down", "bar": 162.7, "price": 4104.9}, {"dir": "up", "bar": 249.7, "price": 3959.4}, {"dir": "down", "bar": 339, "price": 4166.9}, {"dir": "down", "bar": 383.7, "price": 4020.9}, {"dir": "down", "bar": 405.7, "price": 4114.8}, {"dir": "down", "bar": 481, "price": 3994.6}, {"dir": "up", "bar": 638.3, "price": 4302.7}, {"dir": "up", "bar": 655.7, "price": 4224.4}, {"dir": "up", "bar": 680, "price": 4371.7}, {"dir": "up", "bar": 695, "price": 4314}, {"dir": "up", "bar": 724.3, "price": 4434.3}, {"dir": "up", "bar": 731.7, "price": 4357.2}, {"dir": "up", "bar": 780, "price": 4449.9}
    ],
    "forecast": [
      {"bar": 780, "price": 4443.7}, {"bar": 785, "price": 4402.9}, {"bar": 789.3, "price": 4421.7}, {"bar": 792.7, "price": 4392.4}, {"bar": 796.7, "price": 4431.1}, {"bar": 800, "price": 4406.1}, {"bar": 804.3, "price": 4451.2}, {"bar": 825.7, "price": 4656.6}
    ],
    "poc": [
      {"seq": 1, "bar": 2, "price": 4442.7}, {"seq": 2, "bar": 427, "price": 4442.7}, {"seq": 3, "bar": 427, "price": 4077.2}, {"seq": 4, "bar": 452, "price": 4077.2}, {"seq": 5, "bar": 452, "price": 4015.2}, {"seq": 6, "bar": 463, "price": 4015.2}, {"seq": 7, "bar": 463, "price": 4024.6}, {"seq": 8, "bar": 478, "price": 4024.6}, {"seq": 9, "bar": 480, "price": 3996}, {"seq": 10, "bar": 482, "price": 4015.2}, {"seq": 11, "bar": 490, "price": 4015.2}, {"seq": 12, "bar": 493, "price": 4020.9}, {"seq": 13, "bar": 493, "price": 4086.6}, {"seq": 14, "bar": 503, "price": 4075.4}, {"seq": 15, "bar": 540, "price": 4077.2}, {"seq": 16, "bar": 540, "price": 4044.4}, {"seq": 17, "bar": 590, "price": 4044.4}, {"seq": 18, "bar": 590, "price": 4047.2}, {"seq": 19, "bar": 604, "price": 4047.2}, {"seq": 20, "bar": 604, "price": 4074}, {"seq": 21, "bar": 694, "price": 4074}, {"seq": 22, "bar": 694, "price": 4323.4}, {"seq": 23, "bar": 784, "price": 4323.4}
    ],
    "nodes": [
      {"bar": 655.7, "price": 4448.7}, {"bar": 695, "price": 4448.7}, {"bar": 717.3, "price": 4448.7}, {"bar": 737.3, "price": 4448.7}, {"bar": 780, "price": 4448.7}, {"bar": 655.7, "price": 4336.6}, {"bar": 695, "price": 4382.2}, {"bar": 737.3, "price": 4315.3}, {"bar": 780, "price": 4315.3}, {"bar": 717.3, "price": 4222.5}, {"bar": 780, "price": 4222.5}, {"bar": 655.7, "price": 4224.4}, {"bar": 780, "price": 4203.7}, {"bar": 780, "price": 4188.7}, {"bar": 780, "price": 4174.4}, {"bar": 839.7, "price": 4203.1}, {"bar": 899.3, "price": 4203.1}, {"bar": 899.3, "price": 4188.7}, {"bar": 839.7, "price": 4174.4}, {"bar": 899.3, "price": 4174.4}, {"bar": 780, "price": 4382.2}, {"bar": 780, "price": 4337.1}
    ],
    "closeLevels": [
      {"bar": 118, "bar2": 136, "price": 3987.6}, {"bar": 607, "bar2": 625, "price": 4237}
    ],
    "boxes": [
      {"bar": 443, "bar2": 472, "price": 4342.2, "price2": 4327.2},
      {"bar": 443, "bar2": 472, "price": 4317.8, "price2": 4302.7},
      {"bar": 617, "bar2": 645, "price": 4428.6, "price2": 4411.7},
      {"bar": 617, "bar2": 645, "price": 4402.3, "price2": 4385.4}
    ],
    "boxTicks": [
      {"bar": 472, "bar2": 477, "price": 4335},
      {"bar": 472, "bar2": 477, "price": 4310},
      {"bar": 645, "bar2": 650, "price": 4420},
      {"bar": 645, "bar2": 650, "price": 4395}
    ],
    "boxText": [
      {"bar": 457.5, "price": 4335, "label": "4335.00"},
      {"bar": 457.5, "price": 4310, "label": "4310.00"},
      {"bar": 631, "price": 4420, "label": "4420.00"},
      {"bar": 631, "price": 4395, "label": "4395.00"}
    ],
    "levelText": [
      {"bar": 811, "price": 4658.05, "label": "4658.05", "tone": "green"},
      {"bar": 811, "price": 4547.85, "label": "4547.85", "tone": "green"},
      {"bar": 811, "price": 4449.35, "label": "4449.35", "tone": "green"},
      {"bar": 811, "price": 4394.25, "label": "4394.25", "tone": "dark"},
      {"bar": 811, "price": 4357.35, "label": "4357.35", "tone": "navy"},
      {"bar": 811, "price": 4339.15, "label": "4339.15", "tone": "dark"},
      {"bar": 123, "price": 3980, "label": "Закр", "tone": "dark"},
      {"bar": 612, "price": 4244, "label": "Закр", "tone": "dark"},
      {"bar": 13, "price": 4729.3, "label": "XAUUSD_a,M30", "tone": "dark"},
      {"bar": 5, "price": 4729.3, "label": "▾", "tone": "dark"}
    ],
    "tags": [
      {"kind": "time", "bar": 455.7, "bar2": 505.7, "price": 3678.9, "price2": 3663.9},
      {"kind": "time", "bar": 755, "bar2": 806, "price": 3678.9, "price2": 3663.9},
      {"kind": "last", "bar": 1172, "bar2": 1197, "price": 4415.5, "price2": 4402.3}
    ],
    "tagText": [
      {"bar": 480.7, "price": 3671.4, "label": "2026.07.29 17:00"},
      {"bar": 780.5, "price": 3671.4, "label": "2026.08.13 03:30"},
      {"bar": 1184.5, "price": 4409.32, "label": "4409.32"}
    ],
    "widgets": [
      {"kind": "panel", "bar": 4, "bar2": 262.7, "price": 4717.4, "price2": 4503.2},
      {"kind": "header", "bar": 4, "bar2": 262.7, "price": 4717.4, "price2": 4685.5},
      {"kind": "teal", "bar": 9.3, "bar2": 68.3, "price": 4674.2, "price2": 4632.9},
      {"kind": "teal", "bar": 72, "bar2": 131, "price": 4674.2, "price2": 4632.9},
      {"kind": "teal", "bar": 134.3, "bar2": 193.7, "price": 4674.2, "price2": 4632.9},
      {"kind": "button", "bar": 196.7, "bar2": 256.3, "price": 4674.2, "price2": 4632.9},
      {"kind": "button", "bar": 9.3, "bar2": 68.3, "price": 4627.2, "price2": 4586.5},
      {"kind": "button", "bar": 72, "bar2": 131, "price": 4627.2, "price2": 4586.5},
      {"kind": "button", "bar": 134.3, "bar2": 193.7, "price": 4627.2, "price2": 4586.5},
      {"kind": "button", "bar": 196.7, "bar2": 256.3, "price": 4627.2, "price2": 4586.5},
      {"kind": "white", "bar": 72, "bar2": 182, "price": 4573.9, "price2": 4538.9},
      {"kind": "teal", "bar": 181.7, "bar2": 193.7, "price": 4573.9, "price2": 4538.9},
      {"kind": "button", "bar": 196.7, "bar2": 256.3, "price": 4573.9, "price2": 4538.9},
      {"kind": "white", "bar": 9.3, "bar2": 17.3, "price": 4567, "price2": 4549.4},
      {"kind": "button", "bar": 9.3, "bar2": 40, "price": 4533.3, "price2": 4511.3},
      {"kind": "teal", "bar": 19.3, "bar2": 29.3, "price": 4533.3, "price2": 4511.3},
      {"kind": "logo", "bar": 537, "bar2": 654, "price": 4714.2, "price2": 4667.3},
      {"kind": "info", "bar": 1029, "bar2": 1166, "price": 3904.4, "price2": 3706.2},
      {"kind": "buy", "bar": 996, "bar2": 1110, "price": 3706.2, "price2": 3682.7},
      {"kind": "sell", "bar": 1110, "bar2": 1170, "price": 3706.2, "price2": 3682.7}
    ],
    "buttonDash": [
      {"tone": "teal", "bar": 11, "bar2": 66, "price": 4638.1}, {"tone": "teal", "bar": 74, "bar2": 129, "price": 4638.1}, {"tone": "teal", "bar": 136, "bar2": 191, "price": 4638.1},
      {"tone": "plain", "bar": 199, "bar2": 254, "price": 4638.1}, {"tone": "plain", "bar": 11, "bar2": 66, "price": 4591.2}, {"tone": "plain", "bar": 74, "bar2": 129, "price": 4591.2}, {"tone": "plain", "bar": 136, "bar2": 191, "price": 4591.2}
    ],
    "panelRules": [
      {"bar": 251, "bar2": 258, "price": 4694.5}, {"bar": 996, "bar2": 1170, "price": 3682.7}
    ],
    "gears": [
      {"bar": 63, "price": 4669.1}, {"bar": 126, "price": 4669.1}, {"bar": 188.7, "price": 4669.1}, {"bar": 251, "price": 4669.1},
      {"bar": 63, "price": 4622.2}, {"bar": 126, "price": 4622.2}, {"bar": 188.7, "price": 4622.2}, {"bar": 251, "price": 4622.2}
    ],
    "panelCentre": [
      {"bar": 38.8, "price": 4653.2, "label": "Volume Profile", "tone": "light"},
      {"bar": 101.5, "price": 4653.2, "label": "Dynamic POC", "tone": "light"},
      {"bar": 164, "price": 4653.2, "label": "DOM", "tone": "light"},
      {"bar": 226.5, "price": 4653.2, "label": "Volume", "tone": "plain"},
      {"bar": 38.8, "price": 4607.1, "label": "Cluster Search", "tone": "plain"},
      {"bar": 101.5, "price": 4607.1, "label": "Delta", "tone": "plain"},
      {"bar": 164, "price": 4607.1, "label": "Cumulative Δ", "tone": "plain"},
      {"bar": 226.5, "price": 4607.1, "label": "Map", "tone": "plain"},
      {"bar": 226.5, "price": 4556.4, "label": "Settings", "tone": "plain"},
      {"bar": 187.7, "price": 4562, "label": "ˆ", "tone": "light"},
      {"bar": 187.7, "price": 4550, "label": "ˇ", "tone": "light"},
      {"bar": 13.3, "price": 4558.3, "label": "✓", "tone": "check"}
    ],
    "panelLeft": [
      {"bar": 19, "price": 4558.3, "label": "Autoselect"},
      {"bar": 74, "price": 4556.4, "label": "26 DEC Gold"},
      {"bar": 45, "price": 4521.6, "label": "Dynamic Forward-point"}
    ],
    "panelTabs": [
      {"bar": 14, "price": 4669.1, "label": "V"}, {"bar": 77, "price": 4669.1, "label": "P"}, {"bar": 140, "price": 4669.1, "label": "D"},
      {"bar": 14, "price": 4622.2, "label": "B"}, {"bar": 25, "price": 4622.2, "label": "N"}, {"bar": 140, "price": 4622.2, "label": "M"}, {"bar": 202, "price": 4622.2, "label": "E"}
    ],
    "infoText": [
      {"bar": 1035, "price": 3881.8, "label": "Medium trend: Long", "tone": "head"},
      {"bar": 1043, "price": 3857.4, "label": "Target №1: 4449.35", "tone": "target"},
      {"bar": 1043, "price": 3831, "label": "Target №2: 4547.85", "tone": "target"},
      {"bar": 1043, "price": 3804.8, "label": "Target №3: 4658.05", "tone": "target"},
      {"bar": 1035, "price": 3778.5, "label": "Intraday trend: Short", "tone": "head"},
      {"bar": 1043, "price": 3753.1, "label": "Target №1: none", "tone": "none"},
      {"bar": 1043, "price": 3727.8, "label": "Target №2: none", "tone": "none"}
    ]
  },
  "layer": [
    {"data": {"name": "second"}, "mark": {"type": "area", "orient": "horizontal", "color": "#c9c9c9"}, "encoding": {"x2": {"field": "bar2"}}},
    {"data": {"name": "third"}, "mark": {"type": "area", "orient": "horizontal", "color": "#8d8d8d"}, "encoding": {"x2": {"field": "bar2"}}},
    {"data": {"name": "fourth"}, "mark": {"type": "area", "orient": "horizontal", "color": "#8d8d8d"}, "encoding": {"x2": {"field": "bar2"}}},
    {
      "data": {"name": "zones"},
      "mark": {"type": "rect"},
      "encoding": {
        "x2": {"field": "bar2"}, "y2": {"field": "price2"},
        "color": {"field": "kind", "type": "nominal", "legend": null, "scale": {
          "domain": ["gray", "beige", "gold", "sky", "green", "domRed", "domGreen"],
          "range": ["#d6d6d6", "#fbe6cb", "#ffd400", "#7fc8e8", "#8fb98f", "#f05a5a", "#55c08f"]
        }}
      }
    },
    {
      "data": {"name": "outlines"},
      "mark": {"type": "rect", "fillOpacity": 0, "strokeWidth": 1},
      "encoding": {
        "x2": {"field": "bar2"}, "y2": {"field": "price2"},
        "stroke": {"field": "kind", "type": "nominal", "legend": null, "scale": {
          "domain": ["yellow", "red", "blue", "gray"],
          "range": ["#efe48a", "#c9655a", "#a9cdd6", "#e2e2e2"]
        }}
      }
    },
    {
      "data": {"name": "dom"},
      "mark": {"type": "rule", "strokeWidth": 1},
      "encoding": {
        "x2": {"field": "bar2"},
        "color": {"field": "side", "type": "nominal", "legend": null, "scale": {"domain": ["ask", "bid"], "range": ["#f3d9d9", "#d9ece3"]}}
      }
    },
    {"data": {"name": "pale"}, "mark": {"type": "rule", "color": "#cfcfcf", "strokeWidth": 1}, "encoding": {"x2": {"field": "bar2"}}},
    {
      "data": {"name": "close"},
      "mark": {"type": "line", "color": "#000000", "strokeWidth": 1.3, "strokeJoin": "miter"},
      "encoding": {"detail": {"field": "seg"}}
    },
    {"data": {"name": "zigzagUnder"}, "mark": {"type": "line", "color": "#c81e1e", "strokeWidth": 1.2}, "encoding": {}},
    {"data": {"name": "leftFringe"}, "mark": {"type": "area", "orient": "horizontal", "color": "#c9c9c9", "opacity": 0.45}, "encoding": {"x2": {"field": "bar2"}}},
    {"data": {"name": "left"}, "mark": {"type": "area", "orient": "horizontal", "color": "#8d8d8d", "opacity": 0.9}, "encoding": {"x2": {"field": "bar2"}}},
    {
      "data": {"name": "grid"},
      "mark": {"type": "rule", "color": "#111111", "strokeWidth": 1, "strokeDash": [2, 2.5]},
      "encoding": {"y2": {"field": "price2"}}
    },
    {
      "data": {"name": "separators"},
      "mark": {"type": "rule", "color": "#a85a5a", "strokeWidth": 1, "strokeDash": [5, 3]},
      "encoding": {"y2": {"field": "price2"}}
    },
    {
      "data": {"name": "levels"},
      "mark": {"type": "rule", "strokeWidth": 1.2},
      "encoding": {
        "x2": {"field": "bar2"},
        "color": {"field": "tone", "type": "nominal", "legend": null, "scale": {"domain": ["green", "navy"], "range": ["#2e7d2e", "#1f2a60"]}}
      }
    },
    {"data": {"name": "closeLevels"}, "mark": {"type": "rule", "color": "#222222", "strokeWidth": 1.2}, "encoding": {"x2": {"field": "bar2"}}},
    {
      "data": {"name": "poc"},
      "mark": {"type": "line", "color": "#1c1c82", "strokeWidth": 2.6, "strokeDash": [10, 1.5, 2, 1.5, 2, 1.5]},
      "encoding": {"order": {"field": "seq"}}
    },
    {
      "data": {"name": "nodes"},
      "mark": {"type": "circle", "size": 30, "color": "#7fb9b1", "opacity": 0.8},
      "encoding": {}
    },
    {
      "data": {"name": "zigzag"},
      "mark": {"type": "line", "strokeWidth": 1.5},
      "encoding": {
        "detail": {"field": "leg"}, "order": {"field": "seq"},
        "color": {"field": "dir", "type": "nominal", "legend": null, "scale": {"domain": ["down", "up"], "range": ["#c81e1e", "#1a1a9c"]}}
      }
    },
    {
      "data": {"name": "zigzagDots"},
      "mark": {"type": "circle", "size": 20, "opacity": 1},
      "encoding": {
        "color": {"field": "dir", "type": "nominal", "legend": null, "scale": {"domain": ["down", "up"], "range": ["#e01020", "#1a1a9c"]}}
      }
    },
    {"data": {"name": "forecast"}, "mark": {"type": "line", "color": "#e01010", "strokeWidth": 2.4}, "encoding": {}},
    {"data": {"name": "boxes"}, "mark": {"type": "rect", "fill": "#fbeaea", "stroke": "#c05a5a", "strokeWidth": 1}, "encoding": {"x2": {"field": "bar2"}, "y2": {"field": "price2"}}},
    {"data": {"name": "boxTicks"}, "mark": {"type": "rule", "color": "#c05a5a", "strokeWidth": 1}, "encoding": {"x2": {"field": "bar2"}}},
    {"data": {"name": "boxText"}, "mark": {"type": "text", "fontSize": 6.5, "color": "#a03030"}, "encoding": {"text": {"field": "label"}}},
    {
      "data": {"name": "levelText"},
      "mark": {"type": "text", "fontSize": 6, "align": "left"},
      "encoding": {
        "text": {"field": "label"},
        "color": {"field": "tone", "type": "nominal", "legend": null, "scale": {"domain": ["green", "navy", "dark"], "range": ["#2e8b2e", "#444a70", "#333333"]}}
      }
    },
    {
      "data": {"name": "tags"},
      "mark": {"type": "rect"},
      "encoding": {
        "x2": {"field": "bar2"}, "y2": {"field": "price2"},
        "color": {"field": "kind", "type": "nominal", "legend": null, "scale": {"domain": ["time", "last"], "range": ["#ee1c25", "#000000"]}}
      }
    },
    {"data": {"name": "tagText"}, "mark": {"type": "text", "fontSize": 6, "color": "#ffffff"}, "encoding": {"text": {"field": "label"}}},
    {
      "data": {"name": "widgets"},
      "mark": {"type": "rect", "cornerRadius": 2},
      "encoding": {
        "x2": {"field": "bar2"}, "y2": {"field": "price2"},
        "color": {"field": "kind", "type": "nominal", "legend": null, "scale": {
          "domain": ["panel", "header", "teal", "button", "white", "logo", "info", "buy", "sell"],
          "range": ["#ececec", "#d9d9d9", "#4fb5ac", "#d6d6d6", "#ffffff", "#4da53a", "#e6e6e6", "#78b999", "#f25a5a"]
        }}
      }
    },
    {
      "data": {"name": "buttonDash"},
      "mark": {"type": "rule", "strokeWidth": 1, "strokeDash": [9, 2]},
      "encoding": {
        "x2": {"field": "bar2"},
        "color": {"field": "tone", "type": "nominal", "legend": null, "scale": {"domain": ["teal", "plain"], "range": ["#2d7d76", "#a8a8a8"]}}
      }
    },
    {"data": {"name": "panelRules"}, "mark": {"type": "rule", "color": "#666666", "strokeWidth": 1}, "encoding": {"x2": {"field": "bar2"}}},
    {"data": {"name": "gears"}, "mark": {"type": "circle", "size": 9, "color": "#555555", "opacity": 1}, "encoding": {}},
    {"data": {"name": "panelTabs"}, "mark": {"type": "text", "fontSize": 5, "color": "#555555"}, "encoding": {"text": {"field": "label"}}},
    {
      "data": {"name": "panelCentre"},
      "mark": {"type": "text", "fontSize": 7.5},
      "encoding": {
        "text": {"field": "label"},
        "color": {"field": "tone", "type": "nominal", "legend": null, "scale": {"domain": ["light", "plain", "check"], "range": ["#ffffff", "#555555", "#4fb5ac"]}}
      }
    },
    {"data": {"name": "panelLeft"}, "mark": {"type": "text", "fontSize": 7.5, "align": "left", "color": "#555555"}, "encoding": {"text": {"field": "label"}}},
    {"data": {"values": [{"bar": 125, "price": 4699.2, "label": "ProVolume 2.07"}]}, "mark": {"type": "text", "fontSize": 10.5, "color": "#949494"}, "encoding": {"text": {"field": "label"}}},
    {"data": {"values": [{"bar": 595.5, "price": 4690.7, "label": "freshforex.com"}]}, "mark": {"type": "text", "fontSize": 16, "color": "#ffffff"}, "encoding": {"text": {"field": "label"}}},
    {
      "data": {"name": "infoText"},
      "mark": {"type": "text", "fontSize": 8, "align": "left"},
      "encoding": {
        "text": {"field": "label"},
        "color": {"field": "tone", "type": "nominal", "legend": null, "scale": {"domain": ["head", "target", "none"], "range": ["#333333", "#2e8b2e", "#666666"]}}
      }
    },
    {"data": {"values": [{"bar": 1108, "price": 3694, "label": "3761"}]}, "mark": {"type": "text", "fontSize": 8, "align": "right", "color": "#1e3a2c"}, "encoding": {"text": {"field": "label"}}},
    {"data": {"values": [{"bar": 1112, "price": 3694, "label": "1992"}]}, "mark": {"type": "text", "fontSize": 8, "align": "left", "color": "#5a1a1a"}, "encoding": {"text": {"field": "label"}}}
  ]
}
